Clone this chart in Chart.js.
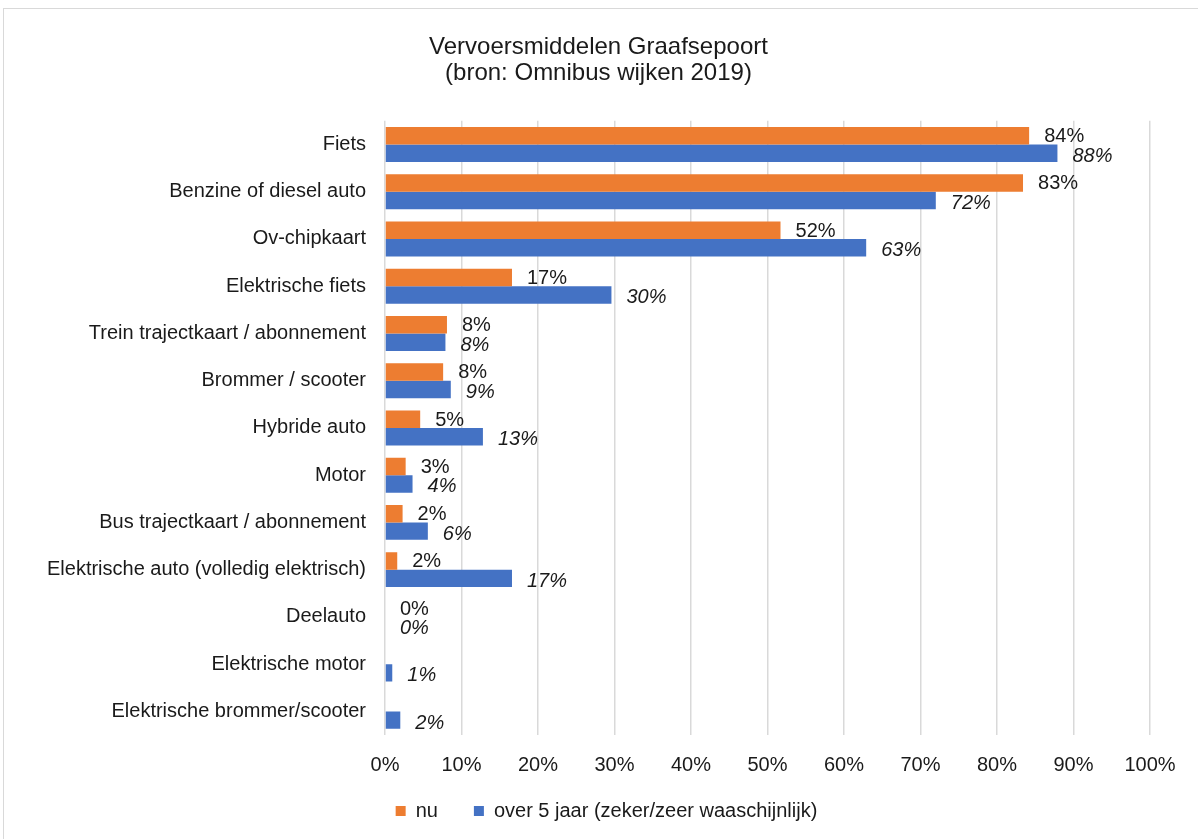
<!DOCTYPE html>
<html lang="nl">
<head>
<meta charset="utf-8">
<title>Vervoersmiddelen Graafsepoort</title>
<script src="https://cdn.jsdelivr.net/npm/chart.js@4/dist/chart.umd.min.js"></script>
<style>
  html, body { margin: 0; padding: 0; background: #fff; }
  #wrap { width: 1198px; height: 839px; position: relative; }
</style>
</head>
<body>
<div id="wrap"><canvas id="chart" width="1198" height="839"></canvas></div>
<script>
  // categories (top to bottom)
  const categories = [
    'Fiets',
    'Benzine of diesel auto',
    'Ov-chipkaart',
    'Elektrische fiets',
    'Trein trajectkaart / abonnement',
    'Brommer / scooter',
    'Hybride auto',
    'Motor',
    'Bus trajectkaart / abonnement',
    'Elektrische auto (volledig elektrisch)',
    'Deelauto',
    'Elektrische motor',
    'Elektrische brommer/scooter'
  ];

  // percentages
  const nuValues = [84.2, 83.4, 51.7, 16.6, 8.1, 7.6, 4.6, 2.7, 2.3, 1.6, 0, null, null];
  const over5Values = [87.9, 72.0, 62.9, 29.6, 7.9, 8.6, 12.8, 3.6, 5.6, 16.6, 0, 0.95, 2.0];

  const xTicks = [0, 10, 20, 30, 40, 50, 60, 70, 80, 90, 100];

  const seriesNames = ['nu', 'over 5 jaar (zeker/zeer waaschijnlijk)'];
  const colorNu = '#ED7D31';
  const colorOver5 = '#4472C4';
  const fontFamily = "'Liberation Sans', Arial, sans-serif";

  // values next to the bars; second series in italics
  const barLabels = {
    id: 'barLabels',
    afterDatasetsDraw(chart) {
      const ctx = chart.ctx;
      ctx.save();
      ctx.fillStyle = '#1a1a1a';
      ctx.textAlign = 'left';
      ctx.textBaseline = 'middle';
      chart.data.datasets.forEach(function (ds, i) {
        const meta = chart.getDatasetMeta(i);
        ctx.font = (i === 1 ? 'italic ' : '') + '20px ' + fontFamily;
        meta.data.forEach(function (bar, j) {
          const v = ds.data[j];
          if (v === null || v === undefined) return;
          ctx.fillText(Math.round(v) + '%', bar.x + 15, bar.y + (i === 1 ? 3 : 1));
        });
      });
      ctx.restore();
    }
  };

  // white background + light frame
  const frame = {
    id: 'frame',
    beforeDraw(chart) {
      const ctx = chart.ctx;
      ctx.save();
      ctx.fillStyle = '#fff';
      ctx.fillRect(0, 0, chart.width, chart.height);
      ctx.strokeStyle = '#d9d9d9';
      ctx.lineWidth = 1;
      ctx.strokeRect(3.5, 8.5, chart.width + 20, chart.height + 20);
      ctx.restore();
    }
  };

  // nudge title and legend to where they sit in the original
  function shiftBox(box, dx, dy) {
    box.left += dx; box.right += dx;
    box.top += dy; box.bottom += dy;
  }
  const nudge = {
    id: 'nudge',
    afterLayout(chart) {
      if (chart.titleBlock) shiftBox(chart.titleBlock, 22, 0);
      if (chart.legend) shiftBox(chart.legend, 30, -30);
    }
  };

  new Chart(document.getElementById('chart').getContext('2d'), {
    type: 'bar',
    data: {
      labels: categories,
      datasets: [
        {
          label: seriesNames[0],
          data: nuValues,
          backgroundColor: colorNu,
          categoryPercentage: 0.74,
          barPercentage: 1.0
        },
        {
          label: seriesNames[1],
          data: over5Values,
          backgroundColor: colorOver5,
          categoryPercentage: 0.74,
          barPercentage: 1.0
        }
      ]
    },
    options: {
      indexAxis: 'y',
      responsive: false,
      animation: false,
      layout: { padding: { left: 3, right: 48, top: 0, bottom: -22 } },
      plugins: {
        title: {
          display: true,
          text: ['Vervoersmiddelen Graafsepoort', '(bron: Omnibus wijken 2019)'],
          color: '#1a1a1a',
          font: { family: fontFamily, size: 24, weight: 'normal', lineHeight: 1.1 },
          padding: { top: 34, bottom: 34 }
        },
        legend: {
          position: 'bottom',
          labels: {
            color: '#1a1a1a',
            font: { family: fontFamily, size: 20 },
            boxWidth: 10,
            boxHeight: 10,
            padding: 36
          }
        },
        tooltip: { enabled: false }
      },
      scales: {
        x: {
          min: 0,
          max: 100,
          afterBuildTicks: function (axis) {
            axis.ticks = xTicks.map(function (v) { return { value: v }; });
          },
          grid: { color: '#d9d9d9', lineWidth: 1.5, drawTicks: false },
          border: { display: false },
          ticks: {
            color: '#1a1a1a',
            font: { family: fontFamily, size: 20 },
            padding: 18,
            callback: function (v) { return v + '%'; }
          }
        },
        y: {
          grid: { display: false },
          border: { display: false },
          afterFit: function (axis) { axis.width = 382; },
          ticks: {
            color: '#1a1a1a',
            font: { family: fontFamily, size: 20 },
            padding: 11
          }
        }
      }
    },
    plugins: [frame, nudge, barLabels]
  });
</script>
</body>
</html>
